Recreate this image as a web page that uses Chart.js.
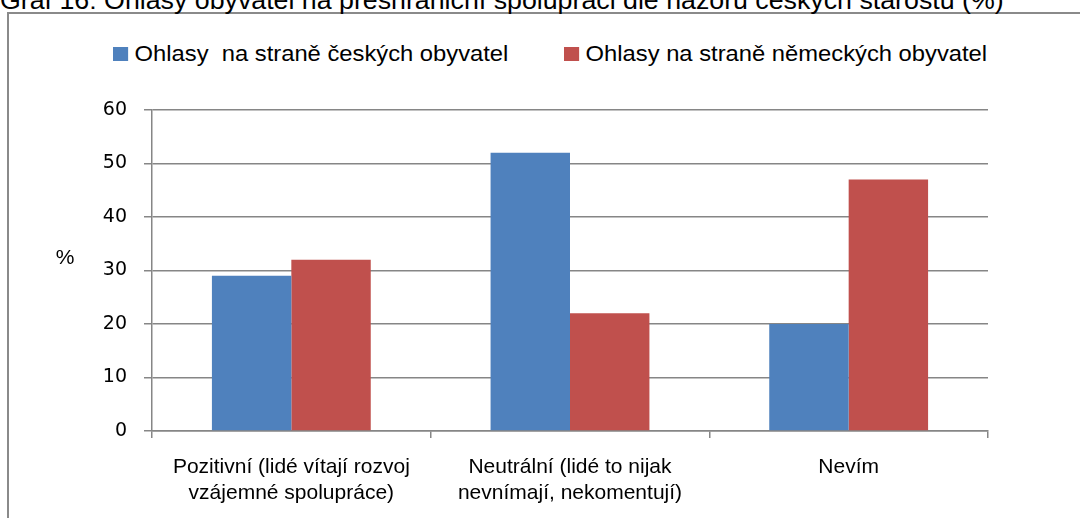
<!DOCTYPE html>
<html>
<head>
<meta charset="utf-8">
<script src="https://cdn.jsdelivr.net/npm/chart.js@4.4.0/dist/chart.umd.min.js"></script>
<style>
    html, body { margin: 0; padding: 0; background: #fff; }
    #wrap { position: relative; width: 1080px; height: 518px; overflow: hidden; font-family: "Liberation Sans", Arial, sans-serif; }
    #title { position: absolute; left: 0; top: -12px; font-size: 25px; line-height: 25px; white-space: nowrap; color: #000; transform: scaleX(1.07); transform-origin: 0 0; }
    #frame { position: absolute; left: 7px; top: 12px; width: 1200px; height: 700px; border: 2px solid #8a8a8a; box-sizing: border-box; }
    #legend { position: absolute; left: 0; top: 0; width: 1080px; height: 80px; font-size: 22px; line-height: 24px; color: #000; }
    #legend .item { position: absolute; top: 42px; display: flex; align-items: center; white-space: pre; transform: scaleX(1.08); transform-origin: 0 50%; }
    #legend .box { width: 14px; height: 14px; margin-right: 6px; }
    #chart { position: absolute; left: 0; top: 0; }
</style>
</head>
<body>
<div id="wrap">
    <div id="frame"></div>
    <div id="title">Graf 16: Ohlasy obyvatel na přeshraniční spolupráci dle názoru českých starostů (%)</div>
    <div id="legend"></div>
    <canvas id="chart" width="1080" height="518"></canvas>
</div>
<script>
// Kategorie a hodnoty
const categories = [
    ['Pozitivní (lidé vítají rozvoj', 'vzájemné spolupráce)'],
    ['Neutrální (lidé to nijak', 'nevnímají, nekomentují)'],
    'Nevím'
];
const seriesNames = ['Ohlasy  na straně českých obyvatel', 'Ohlasy na straně německých obyvatel'];
const czechValues = [29, 52, 20];
const germanValues = [32, 22, 47];
const yMin = 0;
const yMax = 60;
const yStep = 10;
const yAxisTitle = '%';

const gridColor = '#868686';
const seriesColors = ['#4F81BD', '#C0504D'];
const legendLeft = [113, 564];

// HTML legenda nad grafem
const htmlLegend = {
    id: 'htmlLegend',
    afterUpdate(chart) {
        const box = document.getElementById('legend');
        box.innerHTML = '';
        chart.data.datasets.forEach(function(ds, i) {
            const item = document.createElement('div');
            item.className = 'item';
            item.style.left = legendLeft[i] + 'px';
            const sq = document.createElement('span');
            sq.className = 'box';
            sq.style.background = ds.backgroundColor;
            const txt = document.createElement('span');
            txt.textContent = ds.label;
            item.appendChild(sq);
            item.appendChild(txt);
            box.appendChild(item);
        });
    }
};

// popisek osy Y ("%") vlevo od čísel
const yTitle = {
    id: 'yTitle',
    afterDraw(chart) {
        const ctx = chart.ctx;
        const y = chart.scales.y;
        ctx.save();
        ctx.font = '21px "Liberation Sans", Arial, sans-serif';
        ctx.fillStyle = '#000';
        ctx.textAlign = 'center';
        ctx.textBaseline = 'middle';
        ctx.fillText(yAxisTitle, 65, (y.top + y.bottom) / 2 - 12);
        ctx.restore();
    }
};

new Chart(document.getElementById('chart'), {
    type: 'bar',
    data: {
        labels: categories,
        datasets: [
            { label: seriesNames[0], data: czechValues, backgroundColor: seriesColors[0] },
            { label: seriesNames[1], data: germanValues, backgroundColor: seriesColors[1] }
        ]
    },
    options: {
        responsive: false,
        animation: false,
        categoryPercentage: 0.57,
        barPercentage: 1,
        layout: { padding: { top: 110, right: 92, left: 0, bottom: 0 } },
        plugins: {
            legend: { display: false },
            tooltip: { enabled: false }
        },
        scales: {
            x: {
                grid: { offset: true, drawOnChartArea: false, drawTicks: true, tickLength: 7, color: gridColor, lineWidth: 1.5 },
                border: { display: true, color: gridColor, width: 1.5 },
                ticks: {
                    color: '#000',
                    font: { family: '"Liberation Sans", Arial, sans-serif', size: 21, lineHeight: 1.24 },
                    padding: 16,
                    maxRotation: 0,
                    autoSkip: false
                },
                afterFit(scale) { scale.height = 87; }
            },
            y: {
                min: yMin,
                max: yMax,
                grid: { color: gridColor, lineWidth: 1.5, tickLength: 8, drawTicks: true },
                border: { display: true, color: gridColor, width: 1.5 },
                ticks: {
                    stepSize: yStep,
                    color: '#000',
                    font: { family: '"DejaVu Sans", sans-serif', size: 19 },
                    padding: 17
                },
                afterFit(scale) { scale.width = 152; }
            }
        }
    },
    plugins: [htmlLegend, yTitle]
});
</script>
</body>
</html>
